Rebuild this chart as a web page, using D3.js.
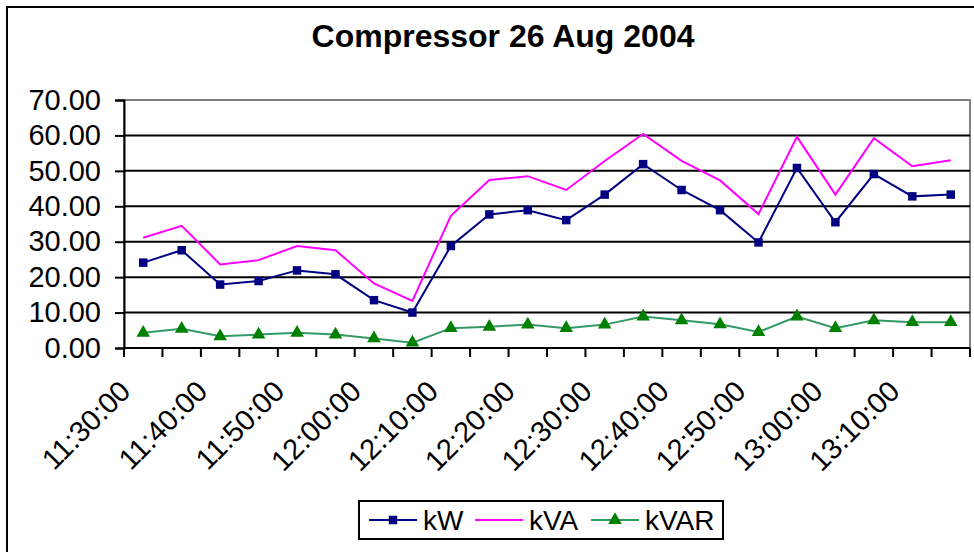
<!DOCTYPE html>
<html>
<head>
<meta charset="utf-8">
<script src="https://cdn.jsdelivr.net/npm/d3@7"></script>
<style>
  body { margin: 0; background: #fff; }
  svg { display: block; font-family: Arial, "Liberation Sans", sans-serif; }
</style>
</head>
<body>
<div id="chart"></div>
<script>
// readings every 5 minutes
var times = ['11:30:00','11:35:00','11:40:00','11:45:00','11:50:00','11:55:00',
             '12:00:00','12:05:00','12:10:00','12:15:00','12:20:00','12:25:00',
             '12:30:00','12:35:00','12:40:00','12:45:00','12:50:00','12:55:00',
             '13:00:00','13:05:00','13:10:00','13:15:00'];
var kW   = [24.1, 27.6, 17.9, 18.9, 21.9, 20.8, 13.5, 10.0, 28.8, 37.7, 38.9,
            36.1, 43.3, 51.9, 44.6, 38.9, 29.8, 50.8, 35.5, 49.1, 42.8, 43.3];
var kVA  = [31.1, 34.5, 23.6, 24.8, 28.8, 27.6, 18.2, 13.3, 37.3, 47.4, 48.5,
            44.6, 52.8, 60.4, 52.8, 47.3, 37.8, 59.6, 43.3, 59.2, 51.3, 53.0];
var kVAR = [4.3, 5.4, 3.3, 3.8, 4.3, 3.8, 2.7, 1.5, 5.6, 6.0, 6.6,
            5.6, 6.6, 8.9, 7.8, 6.7, 4.5, 8.9, 5.6, 7.8, 7.3, 7.3];
var yTicks = [0, 10, 20, 30, 40, 50, 60, 70];

var W = 974, H = 552;
var pLeft = 124, pRight = 970, pTop = 100, pBottom = 348;

var svg = d3.select('#chart').append('svg')
    .attr('width', W)
    .attr('height', H);

// outer chart frame (runs off the picture on right / bottom)
svg.append('rect')
    .attr('x', 7).attr('y', 7)
    .attr('width', W + 20).attr('height', H + 20)
    .attr('fill', '#fff')
    .attr('stroke', '#000')
    .attr('stroke-width', 2);

svg.append('text')
    .attr('x', 503).attr('y', 47)
    .attr('text-anchor', 'middle')
    .attr('font-size', 32)
    .attr('font-weight', 'bold')
    .text('Compressor 26 Aug 2004');

var x = d3.scaleBand().domain(times).range([pLeft, pRight]);
var y = d3.scaleLinear().domain([0, 70]).range([pBottom, pTop]);
var cx = function(i) { return x(times[i]) + x.bandwidth() / 2; };

// plot area border
svg.append('rect')
    .attr('x', pLeft).attr('y', pTop)
    .attr('width', pRight - pLeft).attr('height', pBottom - pTop)
    .attr('fill', 'none')
    .attr('stroke', '#808080')
    .attr('stroke-width', 2);

// gridlines
svg.append('g').selectAll('line')
    .data(yTicks.filter(function(d) { return d > 0 && d < 70; }))
    .enter().append('line')
    .attr('x1', pLeft).attr('x2', pRight)
    .attr('y1', function(d) { return y(d); })
    .attr('y2', function(d) { return y(d); })
    .attr('stroke', '#000')
    .attr('stroke-width', 2);

// y axis
var yAxis = d3.axisLeft(y)
    .tickValues(yTicks)
    .tickFormat(d3.format('.2f'))
    .tickSize(9)
    .tickPadding(14);
var gy = svg.append('g')
    .attr('transform', 'translate(' + pLeft + ',0)')
    .call(yAxis);
gy.select('.domain').attr('stroke', '#000').attr('stroke-width', 2);
gy.selectAll('.tick line').attr('stroke', '#000').attr('stroke-width', 2);
gy.selectAll('.tick text')
    .attr('font-size', 29)
    .attr('font-family', 'Arial, "Liberation Sans", sans-serif')
    .attr('fill', '#000');

// x axis: ticks on category boundaries
var bounds = times.map(function(t) { return x(t); }).concat([pRight]);
svg.append('line')
    .attr('x1', pLeft).attr('x2', pRight)
    .attr('y1', pBottom).attr('y2', pBottom)
    .attr('stroke', '#000').attr('stroke-width', 2);
svg.append('g').selectAll('line')
    .data(bounds)
    .enter().append('line')
    .attr('x1', function(d) { return d; })
    .attr('x2', function(d) { return d; })
    .attr('y1', pBottom).attr('y2', pBottom + 9)
    .attr('stroke', '#000').attr('stroke-width', 2);

svg.append('g').selectAll('text')
    .data(times.filter(function(t, i) { return i % 2 === 0; }))
    .enter().append('text')
    .attr('transform', function(t) {
        return 'translate(' + (x(t) + x.bandwidth() / 2 - 11) + ',' + (pBottom + 45) + ') rotate(-45)';
    })
    .attr('text-anchor', 'end')
    .attr('font-size', 29)
    .text(function(t) { return t; });

// series
var series = [
    { name: 'kW',   values: kW,   line: '#000080', marker: 'square',   fill: '#000080' },
    { name: 'kVA',  values: kVA,  line: '#ff00ff', marker: null,       fill: null },
    { name: 'kVAR', values: kVAR, line: '#339966', marker: 'triangle', fill: '#008000' }
];

var line = d3.line()
    .x(function(d, i) { return cx(i); })
    .y(function(d) { return y(d); });

var symbolOf = function(m) {
    if (m === 'square') return d3.symbol().type(d3.symbolSquare).size(72)();
    return d3.symbol().type(d3.symbolTriangle).size(80)();
};

series.forEach(function(s) {
    svg.append('path')
        .attr('d', line(s.values))
        .attr('fill', 'none')
        .attr('stroke', s.line)
        .attr('stroke-width', 2);
    if (s.marker) {
        svg.append('g').selectAll('path')
            .data(s.values)
            .enter().append('path')
            .attr('d', symbolOf(s.marker))
            .attr('transform', function(d, i) { return 'translate(' + cx(i) + ',' + y(d) + ')'; })
            .attr('fill', s.fill);
    }
});

// legend
var lg = svg.append('g');
lg.append('rect')
    .attr('x', 359).attr('y', 501)
    .attr('width', 364).attr('height', 38)
    .attr('fill', '#fff')
    .attr('stroke', '#000')
    .attr('stroke-width', 2);
var lx = [369, 475, 591];
series.forEach(function(s, i) {
    lg.append('line')
        .attr('x1', lx[i]).attr('x2', lx[i] + 48)
        .attr('y1', 520).attr('y2', 520)
        .attr('stroke', s.line).attr('stroke-width', 2);
    if (s.marker) {
        lg.append('path')
            .attr('d', symbolOf(s.marker))
            .attr('transform', 'translate(' + (lx[i] + 24) + ',520)')
            .attr('fill', s.fill);
    }
    lg.append('text')
        .attr('x', lx[i] + 54).attr('y', 530)
        .attr('font-size', 28)
        .text(s.name);
});
</script>
</body>
</html>
